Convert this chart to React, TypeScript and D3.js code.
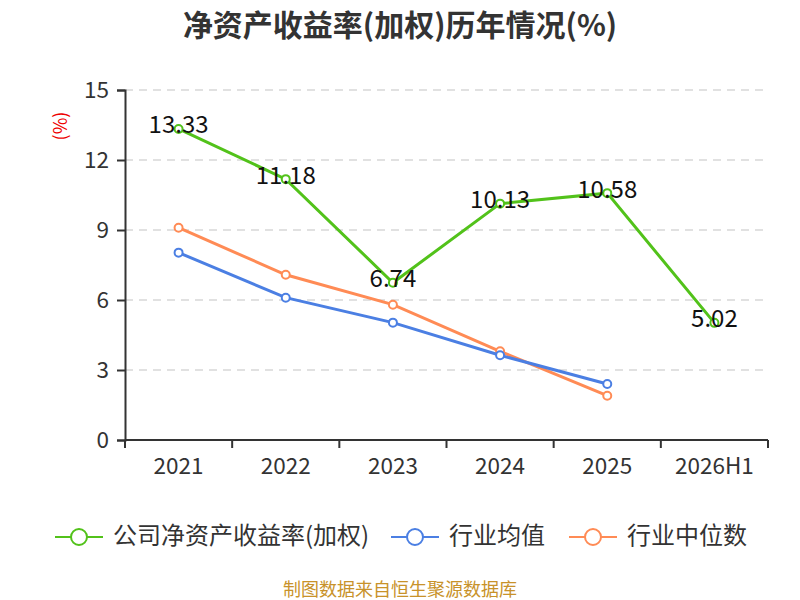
import { useEffect, useRef } from 'react';
import * as d3 from 'd3';

const categories = ['2021', '2022', '2023', '2024', '2025', '2026H1'];
const companyRoe = [13.33, 11.18, 6.74, 10.13, 10.58, 5.02];
const industryAvg = [8.03, 6.1, 5.03, 3.63, 2.4];
const industryMedian = [9.1, 7.08, 5.8, 3.8, 1.9];
const yTicks = [0, 3, 6, 9, 12, 15];

const seriesList = [
  { name: '公司净资产收益率(加权)', values: companyRoe, color: '#52c21a', labels: true },
  { name: '行业均值', values: industryAvg, color: '#4b7fe3', labels: false },
  { name: '行业中位数', values: industryMedian, color: '#ff8b55', labels: false },
];

const FONT = '"Noto Sans CJK SC", "Noto Sans", sans-serif';

export default function App() {
  const svgRef = useRef<SVGSVGElement>(null);

  useEffect(() => {
    if (!svgRef.current) return;
    const svg = d3.select(svgRef.current);
    svg.selectAll('*').remove();

    const margin = { top: 90, right: 32, bottom: 160, left: 125 };
    const width = 800;
    const height = 600;
    const innerWidth = width - margin.left - margin.right;
    const innerHeight = height - margin.top - margin.bottom;

    const x = d3.scaleBand().domain(categories).range([0, innerWidth]);
    const y = d3.scaleLinear().domain([0, 15]).range([innerHeight, 0]);

    // title
    svg.append('text')
      .attr('x', width / 2)
      .attr('y', 36)
      .attr('text-anchor', 'middle')
      .attr('font-family', FONT)
      .attr('font-size', 30)
      .attr('font-weight', 'bold')
      .attr('fill', '#333')
      .text('净资产收益率(加权)历年情况(%)');

    // y unit label
    svg.append('text')
      .attr('transform', 'translate(62,126) rotate(-90)')
      .attr('text-anchor', 'middle')
      .attr('dominant-baseline', 'middle')
      .attr('font-family', FONT)
      .attr('font-size', 18)
      .attr('fill', '#e00')
      .text('(%)');

    const g = svg.append('g').attr('transform', `translate(${margin.left},${margin.top})`);

    // grid
    g.selectAll('.grid')
      .data(yTicks.filter(d => d > 0))
      .enter().append('line')
      .attr('x1', 0)
      .attr('x2', innerWidth)
      .attr('y1', d => y(d))
      .attr('y2', d => y(d))
      .attr('stroke', '#c4c4c4')
      .attr('stroke-width', 1.2)
      .attr('stroke-dasharray', '8,6');

    // y axis
    const yAxis = g.append('g')
      .call(d3.axisLeft(y).tickValues(yTicks).tickSize(8).tickPadding(8));
    yAxis.select('.domain').attr('stroke', '#333').attr('stroke-width', 2);
    yAxis.selectAll('.tick line').attr('stroke', '#333').attr('stroke-width', 2);
    yAxis.selectAll('.tick text')
      .attr('font-family', FONT)
      .attr('font-size', 22.5)
      .attr('fill', '#333');

    // x axis
    const xAxisG = g.append('g').attr('transform', `translate(0,${innerHeight})`);
    xAxisG.append('line')
      .attr('x1', 0).attr('x2', innerWidth)
      .attr('stroke', '#333').attr('stroke-width', 2);
    const bounds = categories.map(c => x(c) as number).concat([innerWidth]);
    xAxisG.selectAll('.xt')
      .data(bounds)
      .enter().append('line')
      .attr('x1', d => d).attr('x2', d => d)
      .attr('y1', 0).attr('y2', 8)
      .attr('stroke', '#333').attr('stroke-width', 2);
    xAxisG.selectAll('.xl')
      .data(categories)
      .enter().append('text')
      .attr('x', d => (x(d) as number) + x.bandwidth() / 2)
      .attr('y', 34)
      .attr('text-anchor', 'middle')
      .attr('font-family', FONT)
      .attr('font-size', 22.5)
      .attr('fill', '#333')
      .text(d => d);

    const cx = (i: number) => (x(categories[i]) as number) + x.bandwidth() / 2;

    // lines (draw company last so it sits on top)
    [...seriesList].reverse().forEach(s => {
      const line = d3.line<number>()
        .x((d, i) => cx(i))
        .y(d => y(d));
      g.append('path')
        .datum(s.values)
        .attr('fill', 'none')
        .attr('stroke', s.color)
        .attr('stroke-width', 3)
        .attr('d', line);
      g.selectAll(null)
        .data(s.values)
        .enter().append('circle')
        .attr('cx', (d, i) => cx(i))
        .attr('cy', d => y(d))
        .attr('r', 4)
        .attr('fill', '#fff')
        .attr('stroke', s.color)
        .attr('stroke-width', 2);
      if (s.labels) {
        g.selectAll(null)
          .data(s.values)
          .enter().append('text')
          .attr('x', (d, i) => cx(i))
          .attr('y', d => y(d) - 2)
          .attr('text-anchor', 'middle')
          .attr('dominant-baseline', 'middle')
          .attr('font-family', FONT)
          .attr('font-size', 24)
          .attr('fill', '#111')
          .text(d => d.toFixed(2));
      }
    });

    // legend
    const legendX = [55, 391, 569];
    seriesList.forEach((s, i) => {
      const lg = svg.append('g').attr('transform', `translate(${legendX[i]},537)`);
      lg.append('line')
        .attr('x1', 0).attr('x2', 48)
        .attr('stroke', s.color).attr('stroke-width', 2);
      lg.append('circle')
        .attr('cx', 24).attr('cy', 0).attr('r', 8)
        .attr('fill', '#fff').attr('stroke', s.color).attr('stroke-width', 2);
      lg.append('text')
        .attr('x', 58).attr('y', 0)
        .attr('dominant-baseline', 'middle')
        .attr('font-family', FONT)
        .attr('font-size', 24)
        .attr('fill', '#333')
        .text(s.name);
    });

    // footer
    svg.append('text')
      .attr('x', width / 2)
      .attr('y', 596)
      .attr('text-anchor', 'middle')
      .attr('font-family', FONT)
      .attr('font-size', 18)
      .attr('fill', '#c8922a')
      .text('制图数据来自恒生聚源数据库');
  }, []);

  return (
    <svg
      ref={svgRef}
      width={800}
      height={600}
      style={{ position: 'absolute', left: 0, top: 0, display: 'block', background: '#fff' }}
    />
  );
}
